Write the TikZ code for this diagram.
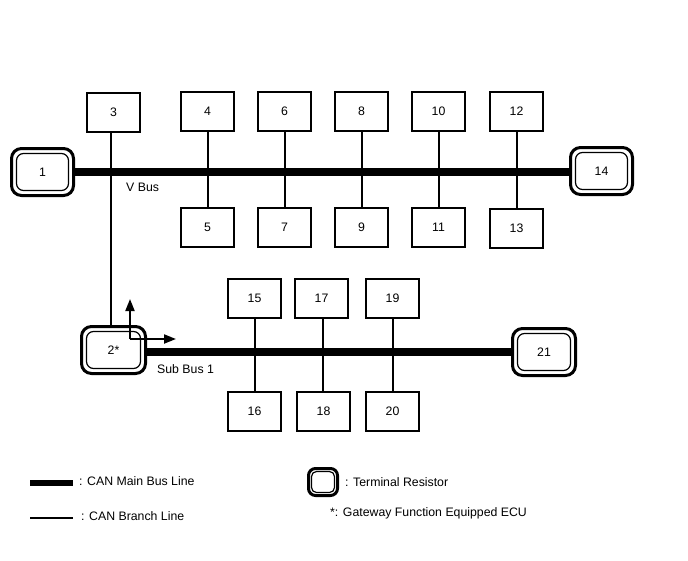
\documentclass[tikz,border=0pt]{standalone}
\usepackage{fontspec}
\setmainfont{Liberation Sans}
\usetikzlibrary{arrows.meta}
\begin{document}
\begin{tikzpicture}[x=1pt,y=-1pt,
  fnt/.style={font=\fontsize{12.3}{14}\selectfont},
  ecu/.style={draw,line width=1.3pt,minimum width=53pt,minimum height=39pt,inner sep=0pt,fnt},
  term/.style={draw,line width=3pt,rounded corners=10pt,minimum width=#1,minimum height=47pt,inner sep=0pt,fnt,
    append after command={\pgfextra{\draw[line width=1.2pt,rounded corners=7pt]
      ([shift={(6.5pt,6.5pt)}]\tikzlastnode.south west) rectangle ([shift={(-6.5pt,-6.5pt)}]\tikzlastnode.north east);}}},
  term/.default=62pt,
  bus/.style={line width=8pt},
  branch/.style={line width=2pt},
  lbl/.style={fnt,anchor=west,inner sep=0pt},
  arr/.style={line width=2pt,-{Triangle[length=12pt,width=9pt]}}
]
\useasboundingbox (0,0) rectangle (688,560);
% terminals
\node[term] (n1) at (42.5,172) {1};
\node[term] (n14) at (601.5,171) {14};
\node[term=64pt] (n2) at (113.5,350) {2*};
\node[term=63pt] (n21) at (544,352) {21};
% top ECUs
\node[ecu] (n3) at (113.5,112.5) {3};
\node[ecu] (n4) at (207.5,111.5) {4};
\node[ecu] (n6) at (284.5,111.5) {6};
\node[ecu] (n8) at (361.5,111.5) {8};
\node[ecu] (n10) at (438.5,111.5) {10};
\node[ecu] (n12) at (516.5,111.5) {12};
\node[ecu] (n5) at (207.5,227.5) {5};
\node[ecu] (n7) at (284.5,227.5) {7};
\node[ecu] (n9) at (361.5,227.5) {9};
\node[ecu] (n11) at (438.5,227.5) {11};
\node[ecu] (n13) at (516.5,228.5) {13};
% sub ECUs
\node[ecu] (n15) at (254.5,298.5) {15};
\node[ecu] (n17) at (321.5,298.5) {17};
\node[ecu] (n19) at (392.5,298.5) {19};
\node[ecu] (n16) at (254.5,411.5) {16};
\node[ecu] (n18) at (323.5,411.5) {18};
\node[ecu] (n20) at (392.5,411.5) {20};
% V bus
\draw[bus] (n1.east) -- (n1.east -| n14.west);
\foreach \a/\b in {4/5,6/7,8/9,10/11,12/13}{
  \draw[branch] (n\a.south) -- (n\b.north);
}
\draw[branch] (n3.south) ++(-2.5pt,0) coordinate (b3) -- (b3 |- n2.north);
% Sub bus
\draw[bus] (n2.east |- 0,352) coordinate (sb) -- (sb -| n21.west);
\foreach \a/\b in {15/16,19/20}{
  \draw[branch] (n\a.south) -- (n\b.north);
}
\draw[branch] (n17.south) ++(1pt,0) coordinate (b17) -- (b17 |- n18.north);
% arrows
\coordinate (ao) at (130,339);
\coordinate (au) at (130,299);
\coordinate (ar) at (176,339);
\draw[arr] (ao) -- (au);
\draw[arr] (ao) -- (ar);
% labels
\node[lbl] (vbus) at (126,187) {V Bus};
\node[lbl] (subbus) at (157,369) {Sub Bus 1};
% legend
\coordinate (l1a) at (30,483); \coordinate (l1b) at (73,483);
\draw[line width=6pt] (l1a) -- (l1b);
\node[lbl] (leg1) at (79,481) {: CAN Main Bus Line};
\coordinate (l2a) at (30,518); \coordinate (l2b) at (73,518);
\draw[branch] (l2a) -- (l2b);
\node[lbl] (leg2) at (81,516) {: CAN Branch Line};
\node[draw,line width=3pt,rounded corners=7pt,minimum width=29pt,minimum height=27pt,inner sep=0pt,
  append after command={\pgfextra{\draw[line width=1.2pt,rounded corners=5pt]
      ([shift={(4.5pt,4.5pt)}]\tikzlastnode.south west) rectangle ([shift={(-4.5pt,-4.5pt)}]\tikzlastnode.north east);}}] (legterm) at (323,482) {};
\node[lbl] (leg3) at (345,482) {: Terminal Resistor};
\node[lbl] (leg4) at (330,513) {*: Gateway Function Equipped ECU};
\end{tikzpicture}
\end{document}
